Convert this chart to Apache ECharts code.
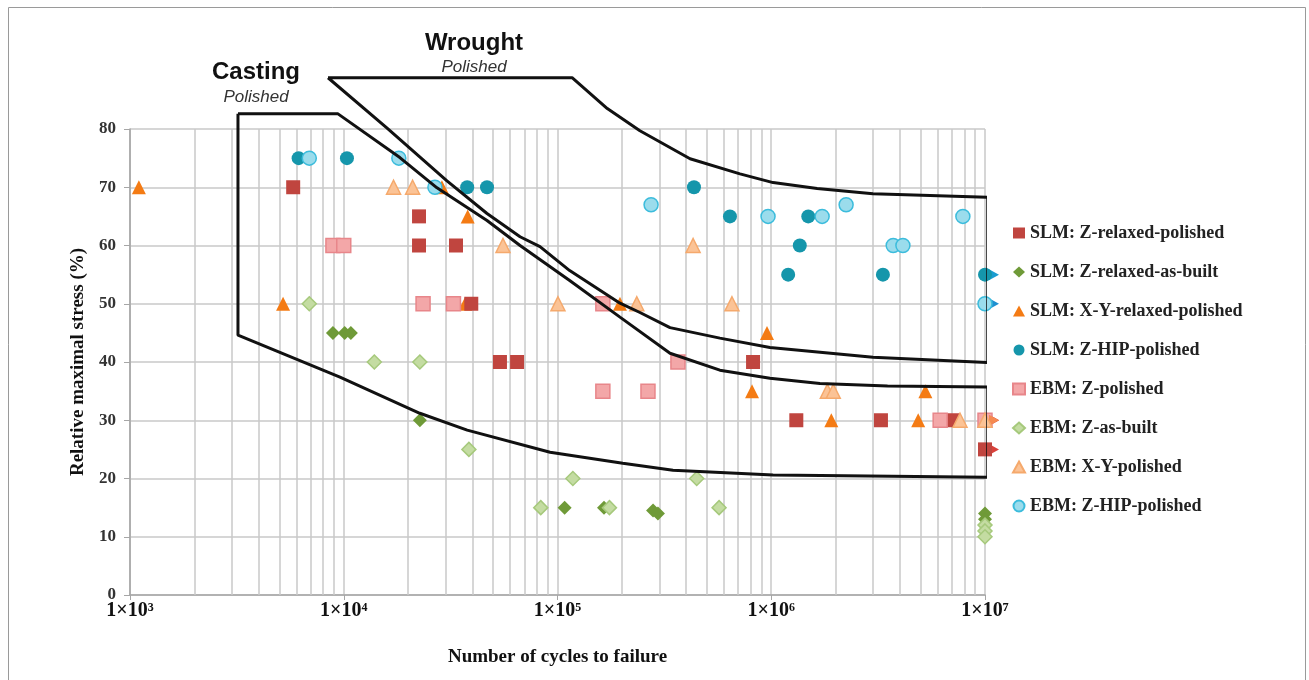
<!DOCTYPE html>
<html>
<head>
<meta charset="utf-8">
<title>Relative maximal stress vs cycles to failure</title>
<script src="https://cdn.jsdelivr.net/npm/echarts@6/dist/echarts.min.js"></script>
<style>
  html, body { margin: 0; padding: 0; background: #fff; }
  #main { width: 1309px; height: 680px; }
</style>
</head>
<body>
<div id="main"></div>
<script>
// data: [cycles, relative stress %]
var slmZRelaxedPolished = [[5800, 70], [22500, 65], [22500, 60], [33500, 60], [39500, 50], [53800, 40], [64700, 40], [822000, 40], [1310000, 30], [3260000, 30], [7080000, 30]];
var slmZRelaxedPolishedRunout = [[1e7, 30], [1e7, 25]];
var slmZRelaxedAsBuilt = [[8900, 45], [10100, 45], [10800, 45], [22700, 30], [108000, 15], [165000, 15], [280000, 14.5], [295000, 14], [1e7, 14], [1e7, 13]];
var slmXYRelaxedPolished = [[1100, 70], [5200, 50], [28800, 70], [37000, 50], [38000, 65], [196000, 50], [813000, 35], [955000, 45], [1910000, 30], [4870000, 30], [5260000, 35]];
var slmZHipPolished = [[6150, 75], [10350, 75], [37800, 70], [46800, 70], [435000, 70], [641000, 65], [1490000, 65], [1360000, 60], [1200000, 55], [3330000, 55]];
var slmZHipPolishedRunout = [[1e7, 55]];
var ebmZPolished = [[8900, 60], [10000, 60], [23500, 50], [32600, 50], [163000, 50], [366000, 40], [163000, 35], [265000, 35], [6170000, 30]];
var ebmZPolishedRunout = [[1e7, 30]];
var ebmZAsBuilt = [[6900, 50], [13900, 40], [22700, 40], [38500, 25], [83500, 15], [118000, 20], [175000, 15], [448000, 20], [570000, 15], [1e7, 12], [1e7, 11], [1e7, 10]];
var ebmXYPolished = [[17100, 70], [21000, 70], [55600, 60], [100500, 50], [235000, 50], [431000, 60], [655000, 50], [1830000, 35], [1950000, 35], [7640000, 30]];
var ebmXYPolishedRunout = [[1e7, 30]];
var ebmZHipPolished = [[6900, 75], [18100, 75], [26700, 70], [274000, 67], [966000, 65], [1730000, 65], [2240000, 67], [3720000, 60], [4130000, 60], [7880000, 65]];
var ebmZHipPolishedRunout = [[1e7, 50]];

// scatter bands of wrought and cast material (outline)
var wroughtBand = [[8440, 88.8], [117000, 88.8], [171000, 83.5], [243000, 79.7], [417000, 74.9], [714000, 72.3], [1020000, 70.8], [1640000, 69.8], [2990000, 68.9], [10300000, 68.3], [10300000, 39.9], [2990000, 40.8], [986000, 42.5], [575000, 44.1], [336000, 45.9], [243000, 48.5], [196000, 50.1], [114000, 55.7], [82800, 59.8], [66800, 61.5], [46800, 65.5], [30400, 71.1], [15900, 80.2], [8440, 88.8]];
var castingBand = [[3200, 82.6], [9400, 82.6], [18300, 75.1], [27300, 69.9], [46800, 64.3], [66800, 60.0], [114000, 54.0], [196000, 47.7], [336000, 41.5], [575000, 38.6], [986000, 37.2], [1690000, 36.3], [3500000, 35.9], [10300000, 35.7], [10300000, 20.2], [1020000, 20.6], [347000, 21.4], [202000, 22.6], [92300, 24.5], [37800, 28.3], [22700, 31.2], [9600, 37.4], [3200, 44.6], [3200, 82.6]];

var seriesNames = ['SLM: Z-relaxed-polished', 'SLM: Z-relaxed-as-built', 'SLM: X-Y-relaxed-polished', 'SLM: Z-HIP-polished',
  'EBM: Z-polished', 'EBM: Z-as-built', 'EBM: X-Y-polished', 'EBM: Z-HIP-polished'];

// minor grid lines of the log axis (2..9 in every decade)
var minorTicks = [];
[1e3, 1e4, 1e5, 1e6].forEach(function (d) {
  for (var k = 2; k <= 9; k++) minorTicks.push(k * d);
});

var serif = 'Liberation Serif';
var sup = { 3: '\u00b3', 4: '\u2074', 5: '\u2075', 6: '\u2076', 7: '\u2077' };

function scatter(name, points, runouts, symbol, size, color, border, arrowColor) {
  var data = points.slice();
  (runouts || []).forEach(function (p) {
    // run-out: marker with a small arrow pointing right
    data.push({
      value: p, symbol: 'triangle', symbolSize: [11, 10], symbolRotate: -90, symbolOffset: [9, 0],
      itemStyle: { color: arrowColor || color, borderWidth: 0 }
    });
    data.push(p);
  });
  return {
    name: name,
    type: 'scatter',
    symbol: symbol,
    symbolSize: size,
    data: data,
    itemStyle: { color: color, borderColor: border || color, borderWidth: border ? 1.5 : 0, opacity: 1 },
    emphasis: { disabled: true }
  };
}

function band(points, withGrid) {
  var s = {
    type: 'line',
    data: points,
    symbol: 'none',
    clip: false,
    silent: true,
    z: 4,
    lineStyle: { color: '#111', width: 3 }
  };
  if (withGrid) {
    s.markLine = {
      silent: true,
      symbol: 'none',
      z: 1,
      label: { show: false },
      lineStyle: { color: '#c9c9c9', width: 1.5, type: 'solid' },
      data: minorTicks.map(function (v) { return { xAxis: v }; })
    };
  }
  return s;
}

var chart = echarts.init(document.getElementById('main'));

var option = {
  animation: false,
  backgroundColor: '#fff',
  grid: { left: 130, right: 324, top: 129, bottom: 85 },
  legend: {
    data: seriesNames,
    orient: 'vertical',
    left: 1007,
    top: 218,
    itemWidth: 12,
    itemHeight: 11,
    itemGap: 19,
    textStyle: { fontFamily: serif, fontWeight: 'bold', fontSize: 18, color: '#222', lineHeight: 20 }
  },
  xAxis: {
    type: 'log',
    logBase: 10,
    min: 1e3,
    max: 1e7,
    name: 'Number of cycles to failure',
    nameLocation: 'middle',
    nameGap: 53,
    nameTextStyle: { fontFamily: serif, fontWeight: 'bold', fontSize: 19, color: '#111' },
    axisLine: { lineStyle: { color: '#a6a6a6', width: 1.5 } },
    axisTick: { show: true, length: 5, lineStyle: { color: '#a6a6a6' } },
    axisLabel: {
      margin: 6,
      fontFamily: serif, fontWeight: 'bold', fontSize: 20, color: '#111',
      formatter: function (v) { return '1\u00d710' + sup[Math.round(Math.log10(v))]; }
    },
    splitLine: { show: true, lineStyle: { color: '#c9c9c9', width: 1.5 } }
  },
  yAxis: {
    type: 'value',
    min: 0,
    max: 80,
    interval: 10,
    name: 'Relative maximal stress (%)',
    nameLocation: 'middle',
    nameGap: 42,
    nameTextStyle: { fontFamily: serif, fontWeight: 'bold', fontSize: 19, color: '#111' },
    axisLine: { show: true, lineStyle: { color: '#a6a6a6', width: 1.5 } },
    axisTick: { show: true, length: 6, lineStyle: { color: '#a6a6a6' } },
    axisLabel: { margin: 14, fontFamily: serif, fontWeight: 'bold', fontSize: 17, color: '#333' },
    splitLine: { show: true, lineStyle: { color: '#c9c9c9', width: 1.5 } }
  },
  graphic: [
    { type: 'rect', silent: true, shape: { x: 8.5, y: 7.5, width: 1297, height: 690 }, style: { fill: 'none', stroke: '#9a9a9a', lineWidth: 1 } },
    { type: 'text', silent: true, style: { x: 474, y: 43, text: 'Wrought', textAlign: 'center', textVerticalAlign: 'middle', font: 'bold 24px "Liberation Sans", Arial, sans-serif', fill: '#111' } },
    { type: 'text', silent: true, style: { x: 474, y: 67, text: 'Polished', textAlign: 'center', textVerticalAlign: 'middle', font: 'italic 17px "Liberation Sans", Arial, sans-serif', fill: '#333' } },
    { type: 'text', silent: true, style: { x: 256, y: 72, text: 'Casting', textAlign: 'center', textVerticalAlign: 'middle', font: 'bold 24px "Liberation Sans", Arial, sans-serif', fill: '#111' } },
    { type: 'text', silent: true, style: { x: 256, y: 97, text: 'Polished', textAlign: 'center', textVerticalAlign: 'middle', font: 'italic 17px "Liberation Sans", Arial, sans-serif', fill: '#333' } }
  ],
  series: [
    band(castingBand, true),
    scatter(seriesNames[2], slmXYRelaxedPolished, null, 'triangle', 14, '#f47b14'),
    scatter(seriesNames[1], slmZRelaxedAsBuilt, null, 'diamond', 14, '#6f9a38'),
    scatter(seriesNames[0], slmZRelaxedPolished, slmZRelaxedPolishedRunout, 'rect', 14, '#c0453f', null, '#d9413b'),
    scatter(seriesNames[3], slmZHipPolished, slmZHipPolishedRunout, 'circle', 14, '#1596ab', null, '#1a9cd0'),
    scatter(seriesNames[4], ebmZPolished, ebmZPolishedRunout, 'rect', 14, '#f3a7a8', '#e8868a', '#e0504a'),
    scatter(seriesNames[5], ebmZAsBuilt, null, 'diamond', 14, '#c4dca2', '#a6c97c'),
    scatter(seriesNames[6], ebmXYPolished, ebmXYPolishedRunout, 'triangle', 14, '#fbc396', '#f5a96c', '#f58a50'),
    scatter(seriesNames[7], ebmZHipPolished, ebmZHipPolishedRunout, 'circle', 14, '#9bdcec', '#3cbcdc', '#1d8fd0'),
    band(wroughtBand, false)
  ]
};

chart.setOption(option);
window.onresize = function () {
  chart.resize();
};
</script>
</body>
</html>
